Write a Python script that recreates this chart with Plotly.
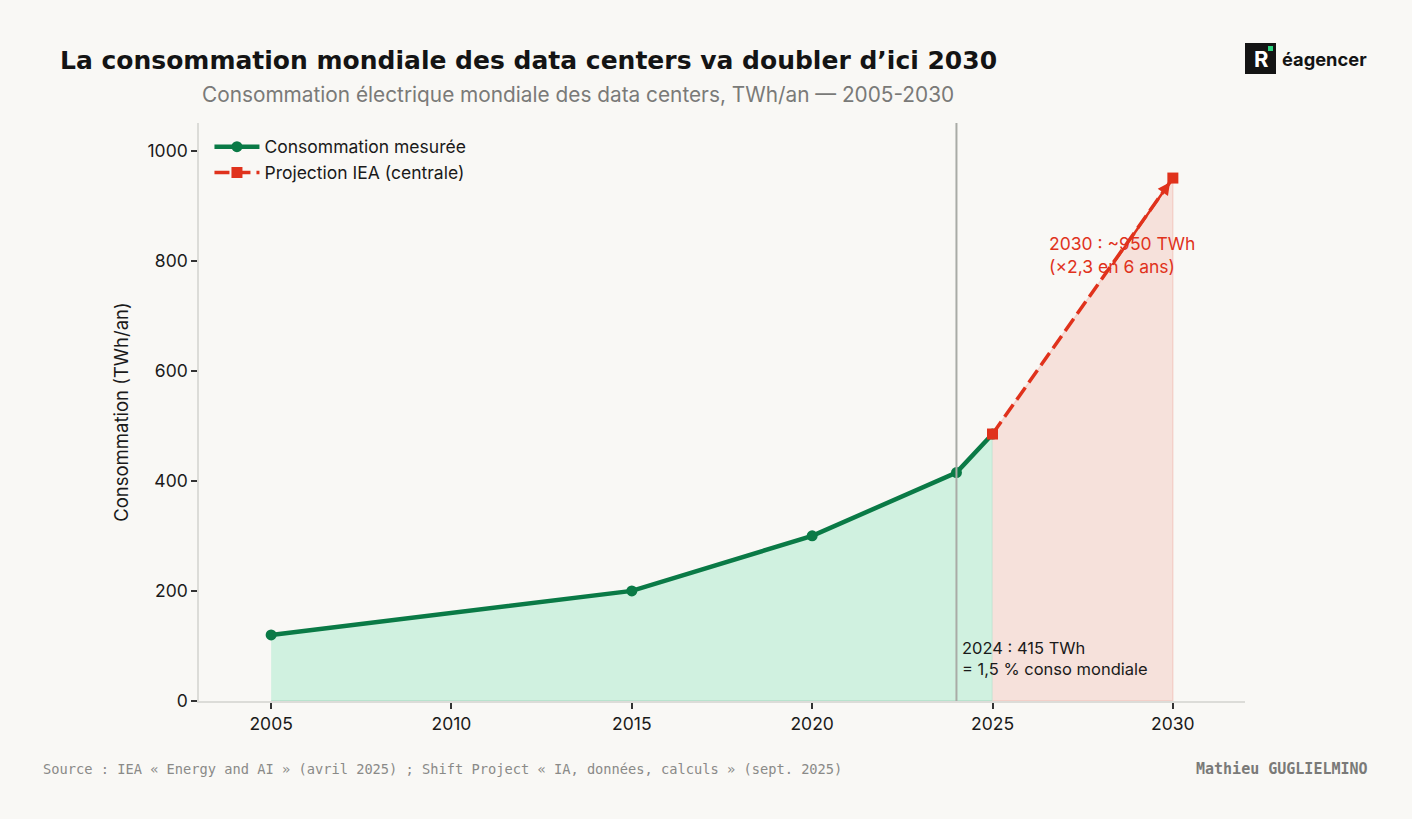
import plotly.graph_objects as go

# ---- data ----
years_measured = [2005, 2015, 2020, 2024, 2025]
twh_measured = [120, 200, 300, 415, 485]
years_proj = [2025, 2030]
twh_proj = [485, 950]
y_ticks = [0, 200, 400, 600, 800, 1000]
x_ticks = [2005, 2010, 2015, 2020, 2025, 2030]

BG = "#f9f8f5"
GREEN = "#0a7a46"
RED = "#e0321c"
W, H = 1412, 819
L, R, T, B = 199, 1245, 123, 701


def px(x):
    return (x - L) / (R - L)


def py(y):
    return (B - y) / (B - T)


fig = go.Figure()

# fills
fig.add_trace(go.Scatter(
    x=years_measured + [years_measured[-1], years_measured[0]],
    y=twh_measured + [0, 0],
    fill="toself", fillcolor="#d0f1e0", mode="lines",
    line=dict(color="rgba(10,122,70,0.15)", width=1.5),
    showlegend=False, hoverinfo="skip"))
fig.add_trace(go.Scatter(
    x=years_proj + [years_proj[-1], years_proj[0]],
    y=twh_proj + [0, 0],
    fill="toself", fillcolor="#f6e1db", mode="lines",
    line=dict(color="rgba(224,50,28,0.12)", width=1.5),
    showlegend=False, hoverinfo="skip"))

# vertical line 2024
fig.add_shape(type="line", x0=2024, x1=2024, y0=0, y1=1, yref="paper",
              line=dict(color="#a9aba6", width=2))

# lines
fig.add_trace(go.Scatter(
    x=years_measured, y=twh_measured, mode="lines+markers",
    name="Consommation mesurée",
    line=dict(color=GREEN, width=4.5),
    marker=dict(symbol="circle", size=11, color=GREEN)))
fig.add_trace(go.Scatter(
    x=years_proj, y=twh_proj, mode="lines+markers",
    name="Projection IEA (centrale)",
    line=dict(color=RED, width=3.5, dash="15px,6px"),
    marker=dict(symbol="square", size=11, color=RED)))

annotations = [
    dict(x=2030, y=950, ax=2028.3, ay=790, xref="x", yref="y", axref="x", ayref="y",
         text="", showarrow=True, arrowhead=2, arrowsize=1, arrowwidth=2.5,
         arrowcolor=RED, standoff=5),
    dict(x=2026.5, y=810, xref="x", yref="y", xanchor="left", yanchor="middle",
         text="2030 : ~950 TWh<br>(×2,3 en 6 ans)", showarrow=False, align="left",
         font=dict(family="Inter", size=17.5, color=RED)),
    dict(x=2024.1, y=78, xref="x", yref="y", xanchor="left", yanchor="middle",
         text="2024 : 415 TWh<br>= 1,5 % conso mondiale", showarrow=False, align="left",
         font=dict(family="Inter", size=16.5, color="#1a1a1a")),
    dict(x=px(58), y=py(60), xref="paper", yref="paper", xanchor="left", yanchor="middle",
         text="<b>La consommation mondiale des data centers va doubler d’ici 2030</b>",
         showarrow=False, font=dict(family="DejaVu Sans", size=25, color="#141414")),
    dict(x=px(200), y=py(95), xref="paper", yref="paper", xanchor="left", yanchor="middle",
         text="Consommation électrique mondiale des data centers, TWh/an — 2005-2030",
         showarrow=False, font=dict(family="Inter", size=20.8, color="#7a7a78")),
    dict(x=px(41), y=py(769), xref="paper", yref="paper", xanchor="left", yanchor="middle",
         text="Source : IEA « Energy and AI » (avril 2025) ; Shift Project « IA, données, calculs » (sept. 2025)",
         showarrow=False, font=dict(family="DejaVu Sans Mono", size=13.7, color="#8a8a88")),
    dict(x=px(1370), y=py(769), xref="paper", yref="paper", xanchor="right", yanchor="middle",
         text="<b>Mathieu GUGLIELMINO</b>",
         showarrow=False, font=dict(family="DejaVu Sans Mono", size=15, color="#7a7a78")),
    dict(x=px(1260.5), y=py(59), xref="paper", yref="paper", xanchor="center", yanchor="middle",
         text="<b>R</b>", showarrow=False, font=dict(family="Inter", size=22, color="#ffffff")),
    dict(x=px(1280), y=py(59), xref="paper", yref="paper", xanchor="left", yanchor="middle",
         text="<b>éagencer</b>", showarrow=False, font=dict(family="Inter", size=18.3, color="#141414")),
]

shapes_extra = [
    dict(type="rect", xref="paper", yref="paper", x0=px(1245), x1=px(1276), y0=py(74), y1=py(43),
         fillcolor="#141414", line=dict(width=0), layer="above"),
    dict(type="rect", xref="paper", yref="paper", x0=px(1268), x1=px(1273), y0=py(51), y1=py(46),
         fillcolor="#2bd47f", line=dict(width=0), layer="above"),
]
for s in shapes_extra:
    fig.add_shape(**s)

fig.update_layout(
    width=W, height=H,
    paper_bgcolor=BG, plot_bgcolor=BG,
    margin=dict(l=L, r=W - R, t=T, b=H - B),
    font=dict(family="Inter", size=17.5, color="#1a1a1a"),
    annotations=annotations,
    showlegend=True,
    legend=dict(x=0.01, y=0.99, xanchor="left", yanchor="top",
                bgcolor="rgba(0,0,0,0)", font=dict(size=17.5, color="#1a1a1a"),
                itemwidth=45, tracegroupgap=4),
    xaxis=dict(range=[2003, 2032], tickvals=x_ticks, showgrid=False, zeroline=False,
               showline=True, linecolor="#dcdcd8", linewidth=1.5,
               ticks="outside", ticklen=6, tickcolor="#333", tickwidth=1.5,
               tickfont=dict(size=17.5, color="#1a1a1a")),
    yaxis=dict(range=[0, 1050], tickvals=y_ticks, showgrid=False, zeroline=False,
               showline=True, linecolor="#dcdcd8", linewidth=1.5,
               ticks="outside", ticklen=6, tickcolor="#333", tickwidth=1.5,
               tickfont=dict(size=17.5, color="#1a1a1a"),
               title=dict(text="Consommation (TWh/an)", font=dict(size=18.5, color="#1a1a1a"),
                          standoff=14)),
)

fig.write_html("out.html")
